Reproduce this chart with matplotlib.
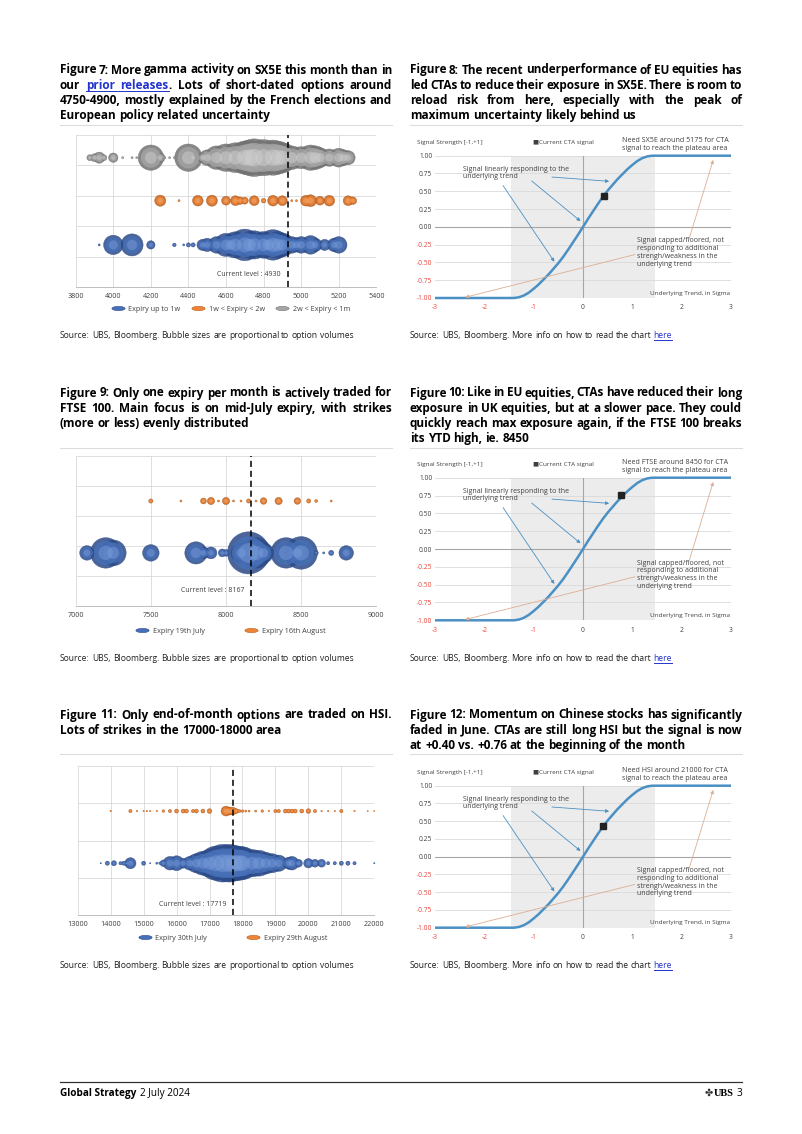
import re
import numpy as np
import matplotlib
matplotlib.use("Agg")
import matplotlib.pyplot as plt
from matplotlib.path import Path
from matplotlib.transforms import Affine2D
from matplotlib.lines import Line2D

plt.rcParams["font.family"] = ["Open Sans", "DejaVu Sans"]

W, H = 802, 1134

# ---------------- data ----------------
# Figure 7: SX5E strikes and option volumes (bubble area ~ volume)
sx5e_1w_strikes = [3925, 4000, 4100, 4200, 4325, 4375, 4400, 4425, 4475, 4500, 4550, 4600, 4625,
                   4650, 4700, 4725, 4750, 4800, 4825, 4850, 4875, 4900, 4950, 4975, 5000, 5050,
                   5075, 5125, 5175, 5200]
sx5e_1w_vols = [1, 85, 110, 16, 3, 1, 4, 4, 28, 40, 62, 120, 98,
                155, 225, 160, 180, 160, 125, 210, 160, 125, 62, 45, 62, 78,
                40, 28, 40, 62]
sx5e_2w_strikes = [4250, 4350, 4450, 4525, 4600, 4650, 4675, 4700, 4750, 4800, 4850, 4900, 4950,
                   4975, 5025, 5050, 5100, 5150, 5250, 5275]
sx5e_2w_vols = [28, 1, 26, 28, 18, 22, 13, 11, 22, 5, 26, 22, 1,
                1, 26, 32, 18, 26, 22, 13]
sx5e_1m_strikes = [3875, 3900, 3925, 3950, 4000, 4050, 4100, 4125, 4200, 4250, 4275, 4300, 4325,
                   4350, 4400, 4425, 4475, 4500, 4550, 4600, 4650, 4700, 4725, 4750, 4800, 4850,
                   4875, 4900, 4950, 5000, 5050, 5075, 5100, 5150, 5200, 5225, 5250]
sx5e_1m_vols = [8, 14, 28, 8, 20, 1, 1, 1, 145, 20, 1, 1, 1,
                1, 170, 8, 20, 56, 125, 170, 200, 245, 280, 320, 295, 280,
                245, 200, 125, 110, 145, 125, 88, 68, 80, 56, 45]
sx5e_level = 4930

# Figure 9: FTSE 100
ftse_jul_strikes = [7075, 7200, 7250, 7500, 7800, 7850, 7900, 7975, 8000, 8100, 8150, 8200, 8250,
                    8400, 8475, 8500, 8600, 8650, 8700, 8800]
ftse_jul_vols = [48, 210, 150, 62, 112, 32, 32, 14, 10, 90, 400, 210, 90,
                 210, 90, 240, 4, 1, 6, 48]
ftse_aug_strikes = [7500, 7700, 7850, 7900, 7950, 8000, 8050, 8100, 8150, 8200, 8250, 8350, 8475,
                    8550, 8600, 8700]
ftse_aug_vols = [4, 1, 8, 12, 1, 12, 1, 1, 4, 1, 10, 12, 10, 4, 2, 1]
ftse_level = 8167

# Figure 11: HSI
hsi_jul_strikes = [13700, 13900, 14100, 14300, 14400, 14500, 14600, 15000, 15200, 15400, 15500,
                   15600, 15800, 16000, 16200, 16400, 16600, 16800, 17000, 17200, 17400, 17600,
                   17750, 17900, 18000, 18300, 18500, 18700, 18900, 19100, 19400, 19500, 19700,
                   20000, 20200, 20400, 20600, 20800, 21000, 21200, 21400, 22000]
hsi_jul_vols = [0.4, 4, 6, 2.5, 4, 6, 28, 4, 0.4, 1, 1.6,
                10, 42, 50, 22, 42, 82, 128, 168, 262, 320, 320,
                285, 262, 240, 168, 150, 106, 82, 60, 32, 42, 14,
                20, 14, 14, 2.5, 2.5, 4, 4, 2.5, 0.4]
hsi_aug_strikes = [14000, 14600, 14800, 15000, 15100, 15200, 15400, 15600, 15800, 16000, 16200,
                   16300, 16500, 16600, 16800, 17000, 17500, 17600, 17700, 17800, 17900, 18000,
                   18100, 18200, 18400, 18600, 18800, 19000, 19100, 19300, 19400, 19500, 19600,
                   19800, 20000, 20200, 20400, 20600, 20800, 21000, 21400, 21800, 22000]
hsi_aug_vols = [0.5, 2.5, 0.5, 0.5, 0.5, 0.5, 0.5, 1.6, 2.5, 3.6, 3.6,
                3.6, 2.5, 3.6, 3.6, 5, 22, 14, 14, 6, 2.5, 1.6,
                1, 1, 1, 1.6, 0.5, 2.5, 2.5, 3.6, 3.6, 3.6, 3.6,
                3.6, 5, 2.5, 0.5, 0.5, 0.5, 2.5, 0.5, 0.3, 0.3]
hsi_level = 17719

# CTA signal curve (signal strength vs underlying trend in sigma)
signal_x = [-3.0, -1.4, -1.3, -1.2, -1.1, -1.0, -0.9, -0.8, -0.7, -0.6, -0.5, -0.4, -0.3, -0.2, -0.1,
            0.0, 0.1, 0.2, 0.3, 0.4, 0.5, 0.6, 0.7, 0.8, 0.9, 1.0, 1.1, 1.2, 1.3, 1.4, 3.0]
signal_y = [-1.0, -1.0, -0.99, -0.965, -0.925, -0.87, -0.81, -0.74, -0.67, -0.59, -0.51, -0.42, -0.32,
            -0.215, -0.11, 0.0, 0.11, 0.215, 0.32, 0.42, 0.51, 0.59, 0.67, 0.74, 0.81, 0.87, 0.925,
            0.965, 0.99, 1.0, 1.0]
plateau_band = (-1.45, 1.45)
sx5e_signal = (0.42, 0.44)
ftse_signal = (0.77, 0.76)
hsi_signal = (0.40, 0.43)

titles = {
    7: ["Figure 7: More gamma activity on SX5E this month than in",
        "our [prior] [releases]. Lots of short-dated options around",
        "4750-4900, mostly explained by the French elections and",
        "European policy related uncertainty"],
    8: ["Figure 8: The recent underperformance of EU equities has",
        "led CTAs to reduce their exposure in SX5E. There is room to",
        "reload risk from here, especially with the peak of",
        "maximum uncertainty likely behind us"],
    9: ["Figure 9: Only one expiry per month is actively traded for",
        "FTSE 100. Main focus is on mid-July expiry, with strikes",
        "(more or less) evenly distributed"],
    10: ["Figure 10: Like in EU equities, CTAs have reduced their long",
         "exposure in UK equities, but at a slower pace. They could",
         "quickly reach max exposure again, if the FTSE 100 breaks",
         "its YTD high, ie. 8450"],
    11: ["Figure 11: Only end-of-month options are traded on HSI.",
         "Lots of strikes in the 17000-18000 area"],
    12: ["Figure 12: Momentum on Chinese stocks has significantly",
         "faded in June. CTAs are still long HSI but the signal is now",
         "at +0.40 vs. +0.76 at the beginning of the month"],
}
bubble_source = "Source: UBS, Bloomberg. Bubble sizes are proportional to option volumes"
signal_source = "Source: UBS, Bloomberg. More info on how to read the chart [here]"

# ---------------- styling ----------------
BLUE, BLUE_D, BLUE_L = "#4770b8", "#2b4a88", "#7d9fdc"
ORANGE, ORANGE_D, ORANGE_L = "#ee8437", "#b95a18", "#f8b27a"
GREY, GREY_D, GREY_L = "#a5a5a5", "#727272", "#d2d2d2"
CURVE = "#4b90c4"
TAN = "#dcae92"
RED = "#e8453c"
TXT = "#404040"
LINK = "#2233cc"
GRID = "#d9d9d9"
K = 2.3  # scatter size per volume unit

fig = plt.figure(figsize=(W / 100, H / 100), dpi=100)
renderer = fig.canvas.get_renderer()


def fx(px):
    return px / W


def fy(py):
    return 1 - py / H


def rect(left, top, right, bottom):
    return [left / W, 1 - bottom / H, (right - left) / W, (bottom - top) / H]


def text_width(s, **kw):
    t = fig.text(0, 0, s, **kw)
    w = t.get_window_extent(renderer).width
    t.remove()
    return w


def space_width(**kw):
    return text_width("a a", **kw) - text_width("aa", **kw)


def segments(word):
    out = []
    for m in re.finditer(r"\[([^\]]*)\]|([^\[]+)", word):
        if m.group(1) is not None:
            out.append((m.group(1), True))
        else:
            out.append((m.group(2), False))
    return out


def draw_line_of_words(line, x0, x1, y, size, weight, justify, color="black"):
    kw = dict(fontsize=size, fontweight=weight)
    words = line.split(" ")
    widths = [sum(text_width(p, **kw) for p, _ in segments(w)) for w in words]
    if justify and len(words) > 1:
        gap = (x1 - x0 - sum(widths)) / (len(words) - 1)
    else:
        gap = space_width(**kw)
    x = x0
    link_start = None
    link_end = None
    for w in words:
        for p, link in segments(w):
            pw = text_width(p, **kw)
            fig.text(fx(x), fy(y), p, color=LINK if link else color,
                     ha="left", va="baseline", **kw)
            if link:
                if link_start is None:
                    link_start = x
                link_end = x + pw
            elif link_start is not None:
                fig.add_artist(Line2D([fx(link_start), fx(link_end)], [fy(y + 1.8)] * 2,
                                      color=LINK, lw=0.7))
                link_start = None
            x += pw
        x += gap
    if link_start is not None:
        fig.add_artist(Line2D([fx(link_start), fx(link_end)], [fy(y + 1.8)] * 2,
                              color=LINK, lw=0.7))


def words_width(line, size, weight):
    kw = dict(fontsize=size, fontweight=weight)
    words = re.sub(r"[\[\]]", "", line).split(" ")
    return sum(text_width(w, **kw) for w in words), len(words) - 1


# title font size: on the tightest justified line the word gaps come out ~1.8 px
scales = []
for v in titles.values():
    for l in v[:-1]:
        ww, ngaps = words_width(l, 7.2, "bold")
        scales.append((331 - ngaps * 1.8) / ww)
TITLE_SIZE = 7.2 * min(scales)


def title_block(lines, x0, x1, baseline, rule_y):
    for i, line in enumerate(lines):
        draw_line_of_words(line, x0, x1, baseline + i * 15.2, TITLE_SIZE, "bold",
                           i < len(lines) - 1)
    fig.add_artist(Line2D([fx(x0), fx(x1)], [fy(rule_y)] * 2, color="#dcdcdc", lw=0.8))


ELLIPSE = Path.unit_circle().transformed(Affine2D().scale(1, 0.32))


def bubble_panel(box, xlim, xstep, ymax, rows, level, level_y, legend_xy, colspace):
    ax = fig.add_axes(box)
    handles, labels = [], []
    for strikes, vols, yrow, face, dark, light, label in rows:
        s = np.array(vols) * K
        yy = [yrow] * len(strikes)
        ax.scatter(strikes, yy, s=s, c=dark, edgecolors=dark, linewidths=0.3,
                   alpha=0.85, clip_on=False, zorder=3)
        ax.scatter(strikes, yy, s=s * 0.62, c=face, linewidths=0, alpha=0.8,
                   clip_on=False, zorder=3)
        ax.scatter(strikes, yy, s=s * 0.22, c=light, linewidths=0, alpha=0.45,
                   clip_on=False, zorder=3)
        handles.append(Line2D([], [], ls="none", marker=ELLIPSE, markersize=9.5,
                              markerfacecolor=face, markeredgecolor=dark, markeredgewidth=0.4))
        labels.append(label)
    ax.set_xlim(*xlim)
    ax.set_ylim(0, ymax)
    ax.set_xticks(np.arange(xlim[0], xlim[1] + 1, xstep))
    ax.set_yticks(np.arange(0, ymax + 1))
    ax.set_yticklabels([])
    ax.grid(color=GRID, lw=0.6)
    ax.set_axisbelow(True)
    ax.tick_params(length=0, labelsize=5.2, labelcolor=TXT, pad=4)
    for s in ["left", "right", "top"]:
        ax.spines[s].set_visible(False)
    ax.spines["bottom"].set_color("#bfbfbf")
    ax.spines["bottom"].set_linewidth(0.7)
    ax.axvline(level, color="black", lw=1.1, ls=(0, (4, 2.5)), zorder=5)
    ax.annotate(f"Current level : {level}", (level, level_y), xytext=(-5, 0),
                textcoords="offset points", ha="right", va="center", fontsize=5, color=TXT)
    ax.legend(handles, labels, loc="center", bbox_to_anchor=(fx(legend_xy[0]), fy(legend_xy[1])),
              bbox_transform=fig.transFigure, ncol=len(labels), frameon=False, fontsize=5.2,
              labelcolor=TXT, handlelength=1.7, handletextpad=0.6, columnspacing=colspace)
    return ax


def signal_panel(box, need_text, marker):
    ax = fig.add_axes(box)
    ax.set_xlim(-3, 3)
    ax.set_ylim(-1, 1)
    ax.axvspan(*plateau_band, color="#ececec", lw=0, zorder=0)
    yt = np.arange(-1, 1.01, 0.25)
    xt = list(range(-3, 4))
    ax.set_yticks(yt)
    ax.set_yticklabels([f"{v:.2f}" for v in yt])
    ax.set_xticks(xt)
    ax.set_xticklabels([str(v) for v in xt])
    for lbl, v in zip(ax.get_yticklabels(), yt):
        lbl.set_color(RED if v < 0 else TXT)
    for lbl, v in zip(ax.get_xticklabels(), xt):
        lbl.set_color(RED if v < 0 else TXT)
    ax.tick_params(length=0, labelsize=4.8)
    ax.tick_params(axis="x", pad=4.5)
    ax.tick_params(axis="y", pad=2)
    ax.grid(axis="y", color=GRID, lw=0.6)
    ax.set_axisbelow(True)
    for s in ax.spines.values():
        s.set_visible(False)
    ax.axhline(0, color="#a6a6a6", lw=0.8, zorder=1)
    ax.axvline(0, color="#a6a6a6", lw=0.8, zorder=1)
    ax.plot(signal_x, signal_y, color=CURVE, lw=1.8, clip_on=False, zorder=3,
            solid_capstyle="butt")
    ax.plot(*marker, ls="none", marker="s", ms=4.6, color="#222222", zorder=4)

    fs = 5.0
    ax.text(-3.36, 1.19, "Signal Strength [-1,+1]", fontsize=4.6, color=TXT, va="center")
    ax.text(-1.02, 1.19, "\u25a0Current CTA signal", fontsize=4.6, color=TXT, va="center")
    ax.text(0.80, 1.155, need_text, fontsize=5.1, color=TXT, va="center", linespacing=1.15)
    ax.text(-2.43, 0.757, "Signal linearly responding to the\nunderlying trend",
            fontsize=fs, color=TXT, va="center", linespacing=1.15)
    ax.text(1.10, -0.36, "Signal capped/floored, not\nresponding to additional\n"
            "strengh/weakness in the\nunderlying trend",
            fontsize=fs, color=TXT, va="center", linespacing=1.15)
    ax.text(2.98, -0.93, "Underlying Trend, in Sigma", fontsize=4.6, color=TXT,
            ha="right", va="center")

    arrow = dict(arrowstyle="-|>", lw=0.6, mutation_scale=5, shrinkA=0, shrinkB=0)
    for (x0, y0), (x1, y1) in [((-0.63, 0.70), (0.53, 0.64)),
                               ((-1.04, 0.645), (-0.05, 0.08)),
                               ((-1.62, 0.58), (-0.58, -0.49))]:
        ax.annotate("", (x1, y1), (x0, y0), arrowprops=dict(arrow, color=CURVE), zorder=5)
    for (x0, y0), (x1, y1) in [((1.05, -0.39), (-2.39, -0.99)),
                               ((2.15, -0.17), (2.64, 0.94))]:
        ax.annotate("", (x1, y1), (x0, y0), arrowprops=dict(arrow, color=TAN), zorder=5)
    return ax


# ---------------- page ----------------
L0, L1 = 60, 392
R0, R1 = 410, 742

title_block(titles[7], L0, L1, 73.5, 125)
title_block(titles[8], R0, R1, 73.5, 125)
title_block(titles[9], L0, L1, 396.5, 447.5)
title_block(titles[10], R0, R1, 396.5, 447.5)
title_block(titles[11], L0, L1, 718.5, 754)
title_block(titles[12], R0, R1, 718.5, 754)

bubble_panel(rect(75.7, 134.5, 376.3, 287), (3800, 5400), 200, 5,
             [(sx5e_1w_strikes, sx5e_1w_vols, 1.38, BLUE, BLUE_D, BLUE_L, "Expiry up to 1w"),
              (sx5e_2w_strikes, sx5e_2w_vols, 2.83, ORANGE, ORANGE_D, ORANGE_L, "1w < Expiry < 2w"),
              (sx5e_1m_strikes, sx5e_1m_vols, 4.24, GREY, GREY_D, GREY_L, "2w < Expiry < 1m")],
             sx5e_level, 0.4, (231, 309), 1.6)

bubble_panel(rect(75.7, 456, 376.3, 606), (7000, 9000), 500, 5,
             [(ftse_jul_strikes, ftse_jul_vols, 1.77, BLUE, BLUE_D, BLUE_L, "Expiry 19th July"),
              (ftse_aug_strikes, ftse_aug_vols, 3.5, ORANGE, ORANGE_D, ORANGE_L, "Expiry 16th August")],
             ftse_level, 0.53, (231, 631), 5.6)

bubble_panel(rect(77.7, 766, 374.3, 915), (13000, 22000), 1000, 4,
             [(hsi_jul_strikes, hsi_jul_vols, 1.39, BLUE, BLUE_D, BLUE_L, "Expiry 30th July"),
              (hsi_aug_strikes, hsi_aug_vols, 2.79, ORANGE, ORANGE_D, ORANGE_L, "Expiry 29th August")],
             hsi_level, 0.29, (233, 938), 5.6)

signal_panel(rect(435, 155.7, 731, 298),
             "Need SX5E around 5175 for CTA\nsignal to reach the plateau area", sx5e_signal)
signal_panel(rect(435, 477.7, 731, 620.3),
             "Need FTSE around 8450 for CTA\nsignal to reach the plateau area", ftse_signal)
signal_panel(rect(435, 785.7, 731, 927.7),
             "Need HSI around 21000 for CTA\nsignal to reach the plateau area", hsi_signal)

ww, ng = words_width(bubble_source, 5.3, "normal")
SRC_SIZE = 5.3 * 292 / (ww + ng * space_width(fontsize=5.3))
for y in [338, 661, 968]:
    draw_line_of_words(bubble_source, L0, L0, y, SRC_SIZE, "normal", False, "#222222")
    draw_line_of_words(signal_source, R0, R0, y, SRC_SIZE, "normal", False, "#222222")

# footer
fig.add_artist(Line2D([fx(60), fx(742)], [fy(1082)] * 2, color="#333333", lw=0.9))
narrow = ["Liberation Sans Narrow", "Open Sans"]
fkw = dict(fontsize=7.2, family=narrow)
gs = fig.text(fx(60), fy(1096), "Global Strategy", fontweight="bold", va="baseline", **fkw)
gw = gs.get_window_extent(renderer).width
fig.text(fx(60 + gw + 4), fy(1096), "2 July 2024", va="baseline", **fkw)
fig.text(fx(713), fy(1096), "\u2724", fontsize=7, va="baseline", ha="right",
         family="DejaVu Sans", color="#333333")
fig.text(fx(714), fy(1096), "UBS", fontsize=7.5, fontweight="bold", va="baseline",
         family="Liberation Serif")
fig.text(fx(742), fy(1096), "3", va="baseline", ha="right", **fkw)

fig.savefig("out.png", dpi=100)
